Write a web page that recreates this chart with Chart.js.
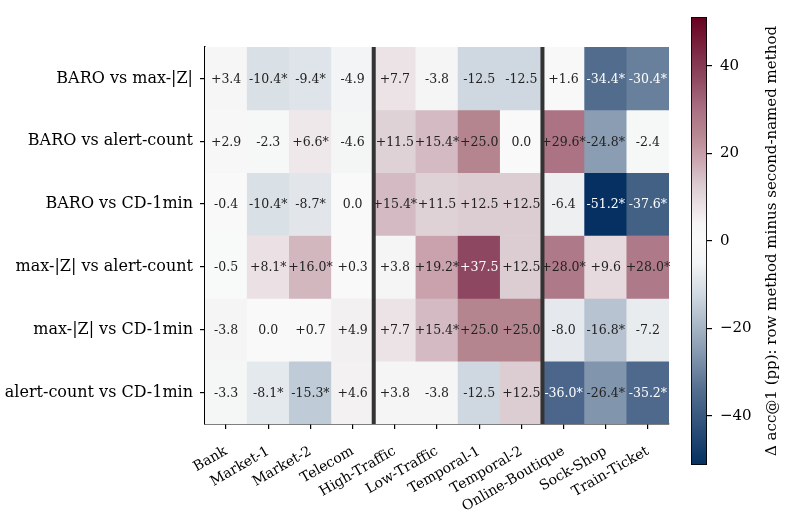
<!DOCTYPE html>
<html><head><meta charset="utf-8">
<script src="https://cdn.jsdelivr.net/npm/chart.js@4/dist/chart.umd.min.js"></script>
<style>
html,body{margin:0;padding:0;background:#fff;}
#wrap{position:relative;width:789px;height:515px;}
canvas{position:absolute;left:0;top:0;}
</style></head><body>
<div id="wrap"><canvas id="main" width="789" height="515"></canvas><canvas id="cbar" width="789" height="515"></canvas></div>
<script>
const columns = ['Bank','Market-1','Market-2','Telecom','High-Traffic','Low-Traffic','Temporal-1','Temporal-2','Online-Boutique','Sock-Shop','Train-Ticket'];
const rowLabels = ['BARO vs max-|Z|','BARO vs alert-count','BARO vs CD-1min','max-|Z| vs alert-count','max-|Z| vs CD-1min','alert-count vs CD-1min'];
const baroVsMaxZ  = [3.4,-10.4,-9.4,-4.9,7.7,-3.8,-12.5,-12.5,1.6,-34.4,-30.4];
const baroVsAlert = [2.9,-2.3,6.6,-4.6,11.5,15.4,25.0,0.0,29.6,-24.8,-2.4];
const baroVsCD    = [-0.4,-10.4,-8.7,0.0,15.4,11.5,12.5,12.5,-6.4,-51.2,-37.6];
const maxZVsAlert = [-0.5,8.1,16.0,0.3,3.8,19.2,37.5,12.5,28.0,9.6,28.0];
const maxZVsCD    = [-3.8,0.0,0.7,4.9,7.7,15.4,25.0,25.0,-8.0,-16.8,-7.2];
const alertVsCD   = [-3.3,-8.1,-15.3,4.6,3.8,-3.8,-12.5,12.5,-36.0,-26.4,-35.2];
const sigBaroVsMaxZ  = [0,1,1,0,0,0,0,0,0,1,1];
const sigBaroVsAlert = [0,0,1,0,0,1,0,0,1,1,0];
const sigBaroVsCD    = [0,1,1,0,1,0,0,0,0,1,1];
const sigMaxZVsAlert = [0,1,1,0,0,1,0,0,1,0,1];
const sigMaxZVsCD    = [0,0,0,0,0,1,0,0,0,1,0];
const sigAlertVsCD   = [0,1,1,0,0,0,0,0,1,1,1];
const colorbarTicks = [-40,-20,0,20,40];
const groupStarts = [4, 8];
const colorbarLabel = 'Δ acc@1 (pp): row method minus second-named method';

const values = [baroVsMaxZ, baroVsAlert, baroVsCD, maxZVsAlert, maxZVsCD, alertVsCD];
const sigs = [sigBaroVsMaxZ, sigBaroVsAlert, sigBaroVsCD, sigMaxZVsAlert, sigMaxZVsCD, sigAlertVsCD];
const vmax = Math.max(...values.flat().map(Math.abs));

const SERIF = "'DejaVu Serif', serif";
const cmapStops = [
 [-1.0,'#053061'],[-0.672,'#526c8e'],[-0.484,'#8a9db3'],[-0.244,'#cfd8e0'],[-0.1,'#f3f4f5'],[0,'#f9f9f9'],
 [0.07,'#f7f6f6'],[0.15,'#ece3e6'],[0.244,'#dccdd3'],[0.375,'#c9a2ad'],[0.488,'#b5858f'],[0.578,'#ab7384'],[0.732,'#8e4760'],[1.0,'#67001f']];
function hex2rgb(h){return [1,3,5].map(i=>parseInt(h.substr(i,2),16));}
function cmap(t){
  t=Math.max(-1,Math.min(1,t));
  for(let i=0;i<cmapStops.length-1;i++){
    const [a,ca]=cmapStops[i],[b,cb]=cmapStops[i+1];
    if(t>=a && t<=b){
      const f=(t-a)/(b-a), A=hex2rgb(ca), B=hex2rgb(cb);
      const c=A.map((v,k)=>Math.round(v+(B[k]-v)*f));
      return `rgb(${c[0]},${c[1]},${c[2]})`;
    }
  }
  return cmapStops[cmapStops.length-1][1];
}
function fmt(v,s){ const t = v>0 ? '+'+v.toFixed(1) : v.toFixed(1); return s ? t+'*' : t; }

const datasets = rowLabels.map((r,i)=>({
  label:r,
  data: values[i].map(()=>[i, i+1]),
  backgroundColor: values[i].map(v=>cmap(v/vmax)),
  borderWidth:0, barPercentage:1, categoryPercentage:1, grouped:false
}));

const annot = {
  id:'annot',
  afterDatasetsDraw(chart){
    const ctx=chart.ctx, xs=chart.scales.x, ys=chart.scales.y;
    ctx.save();
    ctx.font = `12.5px ${SERIF}`;
    ctx.textAlign='center'; ctx.textBaseline='middle';
    chart.data.datasets.forEach((ds,i)=>{
      chart.getDatasetMeta(i).data.forEach((bar,j)=>{
        const p = bar.getProps(['x','y','base'],true);
        const v = values[i][j];
        ctx.fillStyle = Math.abs(v) > 30 ? '#ffffff' : '#222222';
        ctx.fillText(fmt(v, sigs[i][j]), p.x, (p.y+p.base)/2 + 1);
      });
    });
    ctx.strokeStyle='#333333'; ctx.lineWidth=4;
    groupStarts.forEach(g=>{
      const x=(xs.getPixelForValue(g-1)+xs.getPixelForValue(g))/2;
      ctx.beginPath(); ctx.moveTo(x, ys.top); ctx.lineTo(x, ys.bottom); ctx.stroke();
    });
    ctx.restore();
  }
};

new Chart(document.getElementById('main'), {
  type:'bar',
  data:{labels:columns, datasets},
  plugins:[annot],
  options:{
    responsive:false, animation:false, devicePixelRatio:1,
    layout:{padding:{left:0,right:120,top:47,bottom:0}},
    plugins:{legend:{display:false}, tooltip:{enabled:false}},
    scales:{
      x:{type:'category', offset:true, z:1,
         grid:{display:true, offset:false, drawOnChartArea:false, drawTicks:true, tickLength:5, color:'#000', lineWidth:1.2},
         border:{display:true, color:'#000', width:1.5},
         ticks:{maxRotation:30, minRotation:30, autoSkip:false, font:{family:SERIF, size:14}, color:'#000', padding:14},
         afterFit(s){ s.height=91; }},
      y:{type:'linear', min:0, max:rowLabels.length, reverse:true, z:1,
         afterBuildTicks(s){ s.ticks = rowLabels.map((_,i)=>({value:i+0.5})); },
         ticks:{callback:(v,i)=>rowLabels[i], font:{family:SERIF, size:16}, color:'#000', padding:7, autoSkip:false},
         grid:{display:true, drawOnChartArea:false, drawTicks:true, tickLength:5, color:'#000', lineWidth:1.2},
         border:{display:true, color:'#000', width:1.5},
         afterFit(s){ s.width=205; }}
    }
  }
});

const cbLabel = {
  id:'cbLabel',
  afterDraw(chart){
    const ctx=chart.ctx, ys=chart.scales.y;
    ctx.save();
    ctx.font = `15px ${SERIF}`; ctx.fillStyle='#000';
    ctx.textAlign='center'; ctx.textBaseline='middle';
    ctx.translate(chart.chartArea.right + 65, (ys.top+ys.bottom)/2);
    ctx.rotate(-Math.PI/2);
    ctx.fillText(colorbarLabel, 0, 0);
    ctx.restore();
  }
};

new Chart(document.getElementById('cbar'), {
  type:'bar',
  data:{labels:[''], datasets:[{
    data:[[-vmax, vmax]],
    backgroundColor:(c)=>{
      const ca=c.chart.chartArea; if(!ca) return '#ccc';
      const g=c.chart.ctx.createLinearGradient(0, ca.bottom, 0, ca.top);
      for(let k=0;k<=100;k++){ g.addColorStop(k/100, cmap(-1+2*k/100)); }
      return g;
    },
    borderColor:'#000', borderWidth:1.2, borderSkipped:false, barPercentage:1, categoryPercentage:1
  }]},
  plugins:[cbLabel],
  options:{
    responsive:false, animation:false, devicePixelRatio:1,
    layout:{padding:{left:691,right:0,top:7,bottom:50}},
    plugins:{legend:{display:false}, tooltip:{enabled:false}},
    scales:{
      x:{display:false},
      y:{position:'right', min:-vmax, max:vmax,
         afterBuildTicks(s){ s.ticks = colorbarTicks.map(v=>({value:v})); },
         ticks:{callback:v=> v<0 ? '\u2212'+Math.abs(v) : String(v), font:{family:SERIF, size:15}, color:'#000', padding:8},
         grid:{display:true, drawOnChartArea:false, drawTicks:true, tickLength:5, color:'#000', lineWidth:1.2},
         border:{display:false},
         afterFit(s){ s.width=82; }}
    }
  }
});
</script>
</body></html>
